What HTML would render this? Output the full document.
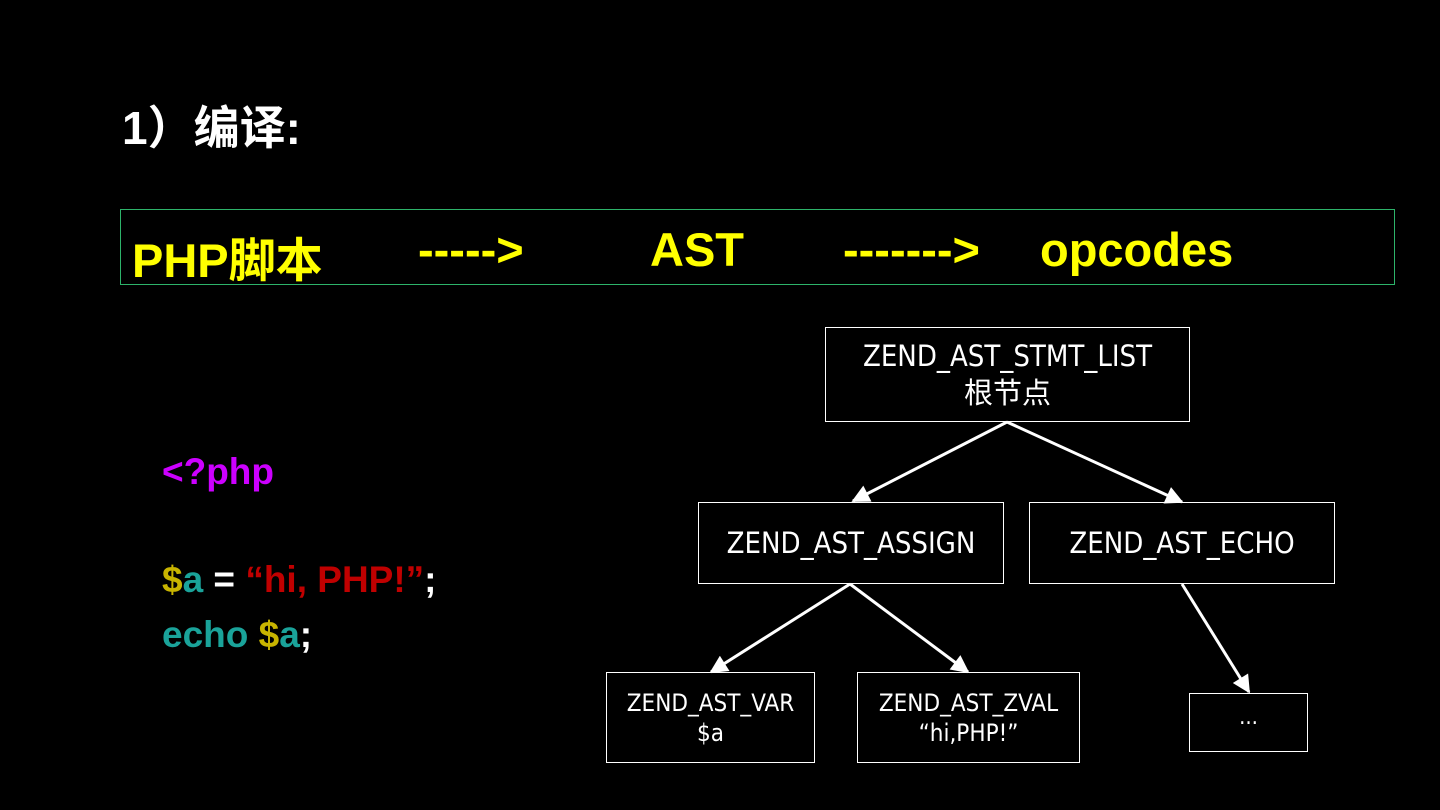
<!DOCTYPE html>
<html><head><meta charset="utf-8"><style>
body{margin:0;background:#000;width:1440px;height:810px;overflow:hidden;position:relative;font-family:"Liberation Sans","Noto Sans CJK SC",sans-serif}
.a{position:absolute;white-space:nowrap}
.b{position:absolute;border:1px solid #fff;box-sizing:border-box;color:#fff;display:flex;flex-direction:column;align-items:center;justify-content:center;font-family:"DejaVu Sans Condensed","Liberation Sans","Noto Sans CJK SC",sans-serif;line-height:1.25}
.code{font-weight:bold;font-size:37px}
</style></head><body>
<div class="a" style="left:122px;top:92px;color:#fff;font-size:46px;font-weight:bold">1）编译:</div>
<div class="a" style="left:120px;top:209px;width:1275px;height:76px;border:1px solid #2db36a;box-sizing:border-box"></div>
<div class="a" style="left:132px;top:222px;color:#ff0;font-size:47px;font-weight:bold">PHP脚本</div>
<div class="a" style="left:418px;top:222px;color:#ff0;font-size:47px;font-weight:bold">-----&gt;</div>
<div class="a" style="left:650px;top:222px;color:#ff0;font-size:47px;font-weight:bold">AST</div>
<div class="a" style="left:843px;top:222px;color:#ff0;font-size:47px;font-weight:bold">-------&gt;</div>
<div class="a" style="left:1040px;top:222px;color:#ff0;font-size:47px;font-weight:bold">opcodes</div>
<div class="a code" style="left:162px;top:451px;color:#cc00ff">&lt;?php</div>
<div class="a code" style="left:162px;top:559px;color:#fff"><span style="color:#c8b400">$</span><span style="color:#1aa39a">a</span> = <span style="color:#c00000">“hi, PHP!”</span>;</div>
<div class="a code" style="left:162px;top:614px;color:#fff"><span style="color:#1aa39a">echo </span><span style="color:#c8b400">$</span><span style="color:#1aa39a">a</span>;</div>
<div class="b" style="left:825px;top:327px;width:365px;height:95px;font-size:29px"><div>ZEND_AST_STMT_LIST</div><div>根节点</div></div>
<div class="b" style="left:698px;top:502px;width:306px;height:82px;font-size:29px">ZEND_AST_ASSIGN</div>
<div class="b" style="left:1029px;top:502px;width:306px;height:82px;font-size:29px">ZEND_AST_ECHO</div>
<div class="b" style="left:606px;top:672px;width:209px;height:91px;font-size:24px"><div>ZEND_AST_VAR</div><div>$a</div></div>
<div class="b" style="left:857px;top:672px;width:223px;height:91px;font-size:24px"><div>ZEND_AST_ZVAL</div><div>“hi,PHP!”</div></div>
<div class="b" style="left:1189px;top:693px;width:119px;height:59px;font-size:22px;justify-content:flex-start;padding-top:10px">...</div>
<svg class="a" style="left:0;top:0" width="1440" height="810">
<defs><marker id="m" markerWidth="10" markerHeight="10" refX="9" refY="5" orient="auto" markerUnits="userSpaceOnUse"><path d="M0,0 L10,5 L0,10 z" fill="#fff" transform="scale(1)"/></marker>
<marker id="h" viewBox="0 0 10 10" markerWidth="20" markerHeight="18" refX="9" refY="5" orient="auto" markerUnits="userSpaceOnUse"><path d="M0,0 L10,5 L0,10 z" fill="#fff"/></marker></defs>
<g stroke="#fff" stroke-width="3" fill="none" marker-end="url(#h)">
<line x1="1007" y1="422" x2="853" y2="501"/>
<line x1="1007" y1="422" x2="1182" y2="502"/>
<line x1="850" y1="584" x2="711" y2="672"/>
<line x1="850" y1="584" x2="968" y2="672"/>
<line x1="1182" y1="584" x2="1249" y2="692"/>
</g></svg>
</body></html>
